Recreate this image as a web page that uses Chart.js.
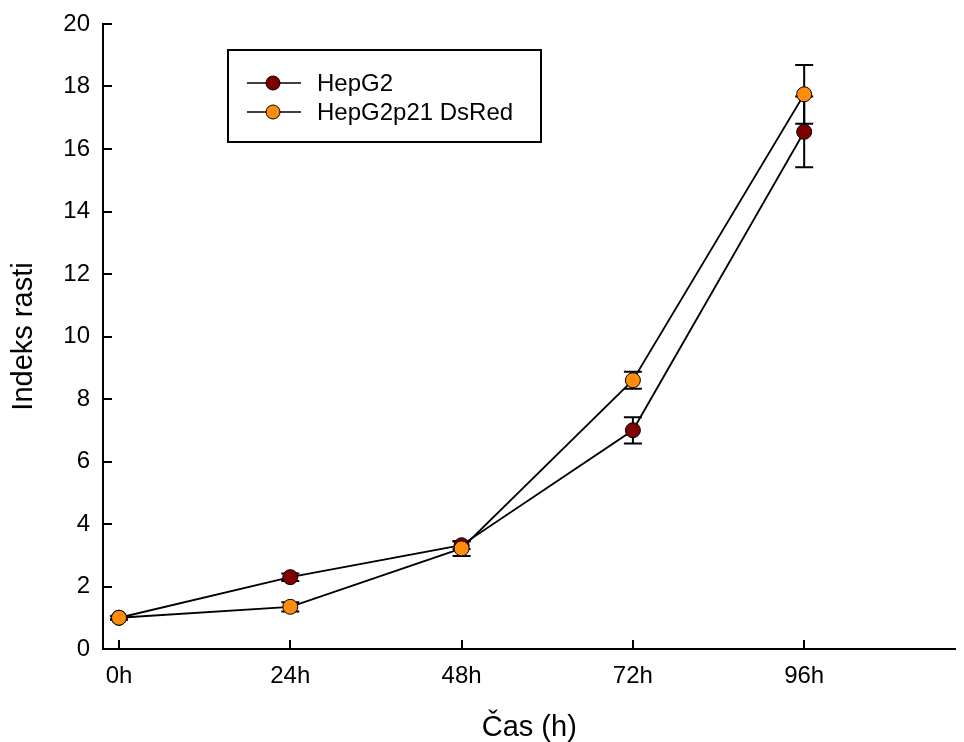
<!DOCTYPE html>
<html>
<head>
<meta charset="utf-8">
<script src="https://cdn.jsdelivr.net/npm/chart.js@4"></script>
<style>
  body { margin: 0; background: #fff; }
  canvas { display: block; }
</style>
</head>
<body>
<canvas id="growth-chart" width="964" height="742"></canvas>
<script>
const ctx = document.getElementById("growth-chart");

// podatki odčitani s slike
const hours = [0, 24, 48, 72, 96];
const tickLabels = ["0h", "24h", "48h", "72h", "96h"];
const hepg2 = [1.0, 2.3, 3.32, 7.0, 16.55];
const hepg2Err = [0.06, 0.12, 0.12, 0.42, 1.13];
const hepg2p21 = [1.0, 1.35, 3.22, 8.6, 17.75];
const hepg2p21Err = [0.05, 0.15, 0.24, 0.27, 0.94];

const FONT = "'Liberation Sans', Arial, sans-serif";

// napake (error bars) za vsako serijo
const errorBars = {
  id: "errorBars",
  beforeDatasetsDraw(chart) {
    const c = chart.ctx;
    const x = chart.scales.x;
    const y = chart.scales.y;
    c.save();
    c.strokeStyle = "#000";
    c.lineWidth = 2;
    chart.data.datasets.forEach((ds) => {
      ds.data.forEach((p, i) => {
        const e = ds.errors[i];
        const px = x.getPixelForValue(p.x);
        const top = y.getPixelForValue(p.y + e);
        const bot = y.getPixelForValue(p.y - e);
        c.beginPath();
        c.moveTo(px, top);
        c.lineTo(px, bot);
        c.moveTo(px - 9, top);
        c.lineTo(px + 9, top);
        c.moveTo(px - 9, bot);
        c.lineTo(px + 9, bot);
        c.stroke();
      });
    });
    c.restore();
  },
};

// kljukice navznoter
const innerTicks = {
  id: "innerTicks",
  afterDraw(chart) {
    const c = chart.ctx;
    const area = chart.chartArea;
    const x = chart.scales.x;
    const y = chart.scales.y;
    c.save();
    c.strokeStyle = "#000";
    c.lineWidth = 2;
    c.beginPath();
    x.ticks.forEach((t) => {
      const px = Math.round(x.getPixelForValue(t.value));
      c.moveTo(px, area.bottom);
      c.lineTo(px, area.bottom - 9);
    });
    y.ticks.forEach((t) => {
      const py = Math.round(y.getPixelForValue(t.value));
      c.moveTo(area.left, py);
      c.lineTo(area.left + 9, py);
    });
    c.stroke();
    c.restore();
  },
};

// legenda v okvirju
const boxLegend = {
  id: "boxLegend",
  afterDraw(chart) {
    const c = chart.ctx;
    c.save();
    c.strokeStyle = "#000";
    c.lineWidth = 2;
    c.strokeRect(228, 50, 313, 92);
    const rows = [83, 112];
    chart.data.datasets.forEach((ds, i) => {
      const ry = rows[i];
      c.beginPath();
      c.moveTo(247, ry);
      c.lineTo(301, ry);
      c.lineWidth = 1.5;
      c.stroke();
      c.beginPath();
      c.arc(273, ry, 7, 0, Math.PI * 2);
      c.fillStyle = ds.pointBackgroundColor;
      c.fill();
      c.lineWidth = 1;
      c.stroke();
      c.fillStyle = "#000";
      c.font = "24px " + FONT;
      c.textBaseline = "middle";
      c.fillText(ds.label, 317, ry + 1);
    });
    c.restore();
  },
};

const graf = new Chart(ctx, {
  type: "line",
  data: {
    datasets: [
      {
        label: "HepG2",
        data: hours.map((h, i) => ({ x: h, y: hepg2[i] })),
        errors: hepg2Err,
        borderColor: "#000",
        borderWidth: 1.8,
        pointRadius: 7.5,
        pointBackgroundColor: "#800000",
        pointBorderColor: "#000",
        pointBorderWidth: 1,
        order: 1,
      },
      {
        label: "HepG2p21 DsRed",
        data: hours.map((h, i) => ({ x: h, y: hepg2p21[i] })),
        errors: hepg2p21Err,
        borderColor: "#000",
        borderWidth: 1.8,
        pointRadius: 7.5,
        pointBackgroundColor: "#ff8c0a",
        pointBorderColor: "#000",
        pointBorderWidth: 1,
        order: 0,
      },
    ],
  },
  options: {
    responsive: false,
    animation: false,
    layout: { padding: { top: 24, right: 2, left: 0, bottom: 0 } },
    plugins: {
      legend: { display: false },
      tooltip: { enabled: false },
    },
    scales: {
      x: {
        type: "linear",
        min: -2.24,
        max: 117.2,
        afterBuildTicks: (scale) => {
          scale.ticks = hours.map((h) => ({ value: h }));
        },
        afterFit: (scale) => {
          scale.height = 93;
          scale.paddingLeft = 0;
          scale.paddingRight = 0;
        },
        grid: { display: false, drawTicks: false },
        border: { display: true, color: "#000", width: 2 },
        ticks: {
          color: "#000",
          font: { family: FONT, size: 24 },
          padding: 13,
          maxRotation: 0,
          callback: (v, i) => tickLabels[i],
        },
        title: {
          display: true,
          text: "Čas (h)",
          color: "#000",
          font: { family: FONT, size: 29, lineHeight: 1 },
          padding: { bottom: 0, top: 0 },
        },
      },
      y: {
        min: 0,
        max: 20,
        afterFit: (scale) => {
          scale.width = 103;
          scale.paddingTop = 0;
          scale.paddingBottom = 0;
        },
        grid: { display: false, drawTicks: false },
        border: { display: true, color: "#000", width: 2 },
        ticks: {
          stepSize: 2,
          color: "#000",
          font: { family: FONT, size: 24 },
          padding: 13,
        },
        title: {
          display: true,
          text: "Indeks rasti",
          color: "#000",
          font: { family: FONT, size: 29, lineHeight: 1 },
          padding: { top: 9, bottom: 0 },
        },
      },
    },
  },
  plugins: [errorBars, innerTicks, boxLegend],
});
</script>
</body>
</html>
